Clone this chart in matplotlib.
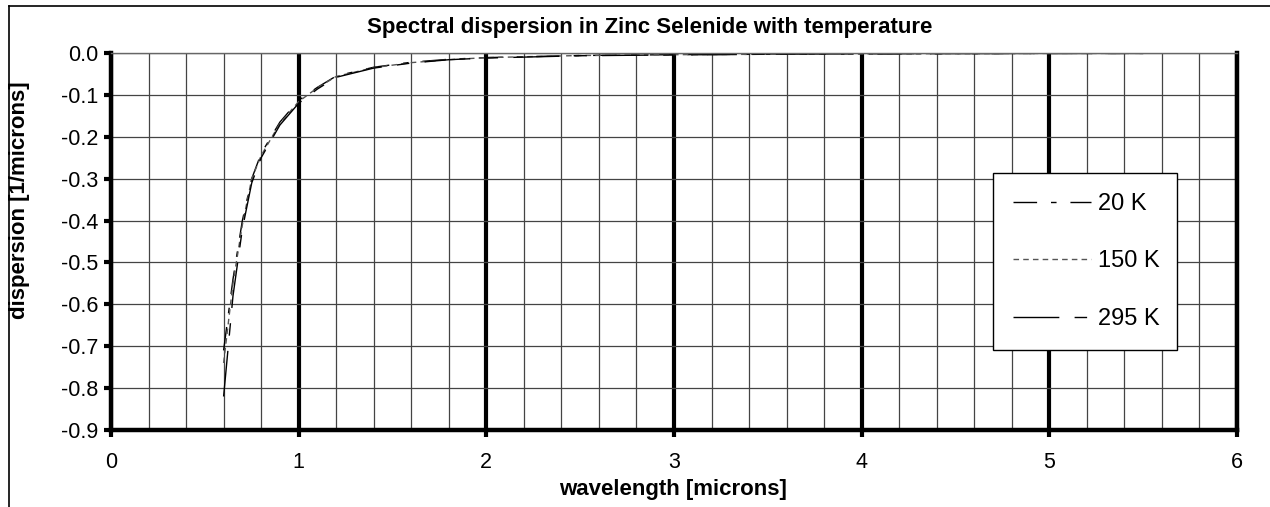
import matplotlib
matplotlib.use("Agg")
import matplotlib.pyplot as plt
from matplotlib.lines import Line2D
from matplotlib.ticker import MultipleLocator, FormatStrFormatter

plt.rcParams['font.family'] = ['Liberation Sans', 'DejaVu Sans']

wavelength = [0.60, 0.65, 0.70, 0.75, 0.80, 0.90, 1.00, 1.10, 1.20, 1.40,
              1.60, 1.80, 2.00, 2.50, 3.00, 3.50, 4.00, 4.50, 5.00, 5.50]
disp_20K = [-0.71, -0.54, -0.40, -0.30, -0.24, -0.165, -0.113, -0.082, -0.055, -0.034,
            -0.022, -0.015, -0.011, -0.006, -0.004, -0.003, -0.002, -0.0015, -0.001, -0.001]
disp_150K = [-0.74, -0.55, -0.41, -0.30, -0.245, -0.168, -0.116, -0.083, -0.056, -0.035,
             -0.023, -0.016, -0.011, -0.006, -0.004, -0.003, -0.002, -0.0015, -0.001, -0.001]
disp_295K = [-0.82, -0.58, -0.42, -0.31, -0.25, -0.172, -0.120, -0.086, -0.058, -0.036,
             -0.024, -0.016, -0.012, -0.0065, -0.0045, -0.003, -0.002, -0.0015, -0.001, -0.001]
labels = ["20 K", "150 K", "295 K"]

W, H = 1270, 507
fig = plt.figure(figsize=(W / 100, H / 100), dpi=100)
ax = fig.add_axes([111 / W, 1 - 430 / H, (1237 - 111) / W, (430 - 53) / H])

ax.set_xlim(0, 6)
ax.set_ylim(-0.9, 0.0)

# grid
ax.xaxis.set_major_locator(MultipleLocator(1))
ax.xaxis.set_minor_locator(MultipleLocator(0.2))
ax.yaxis.set_major_locator(MultipleLocator(0.1))
ax.yaxis.set_major_formatter(FormatStrFormatter('%.1f'))
ax.grid(which='minor', axis='x', color='#444444', linewidth=0.9)
ax.grid(which='major', axis='x', color='black', linewidth=3.0)
ax.grid(which='major', axis='y', color='#444444', linewidth=0.9)
ax.set_axisbelow(True)

ax.tick_params(axis='x', which='major', direction='out', length=5, width=3,
               labelsize=15.5, pad=11)
ax.tick_params(axis='x', which='minor', length=0)
ax.tick_params(axis='y', which='major', direction='out', length=5, width=3,
               labelsize=15.5, pad=4)

for side in ['left', 'bottom', 'right']:
    ax.spines[side].set_linewidth(3.2)
    ax.spines[side].set_color('black')
ax.spines['top'].set_linewidth(1.0)
ax.spines['top'].set_color('#666666')

l1, = ax.plot(wavelength, disp_20K, color='black', linewidth=1.0,
              dashes=(17, 10, 4, 10), label=labels[0])
l2, = ax.plot(wavelength, disp_150K, color='#555555', linewidth=1.0,
              dashes=(4, 3), label=labels[1])
l3, = ax.plot(wavelength, disp_295K, color='black', linewidth=1.0,
              dashes=(33, 11, 9, 11), label=labels[2])

fig.text(650 / W, 1 - 28 / H, "Spectral dispersion in Zinc Selenide with temperature",
         fontsize=16, fontweight='bold', ha='center', va='center')
fig.text(673 / W, 1 - 490 / H, "wavelength [microns]",
         fontsize=16, fontweight='bold', ha='center', va='center')
fig.text(20 / W, 1 - 200 / H, "dispersion [1/microns]", rotation=90,
         fontsize=16, fontweight='bold', ha='center', va='center')

leg = ax.legend(handles=[l1, l2, l3], loc='upper left',
                bbox_to_anchor=(993 / W, 1 - 173 / H, (1177 - 993) / W, 0.0),
                bbox_transform=fig.transFigure, mode='expand', borderaxespad=0,
                fontsize=17, handlelength=3.3, handletextpad=0.3,
                labelspacing=1.5, borderpad=0.85, fancybox=False,
                framealpha=1, edgecolor='black')
leg.get_frame().set_linewidth(1.0)

# outer chart border (left and top visible)
fig.add_artist(Line2D([9 / W, 9 / W], [0, 1 - 6 / H], transform=fig.transFigure,
                      color='black', linewidth=1.2))
fig.add_artist(Line2D([9 / W, 1], [1 - 6 / H, 1 - 6 / H], transform=fig.transFigure,
                      color='black', linewidth=1.2))

fig.savefig("out.png", dpi=100)
